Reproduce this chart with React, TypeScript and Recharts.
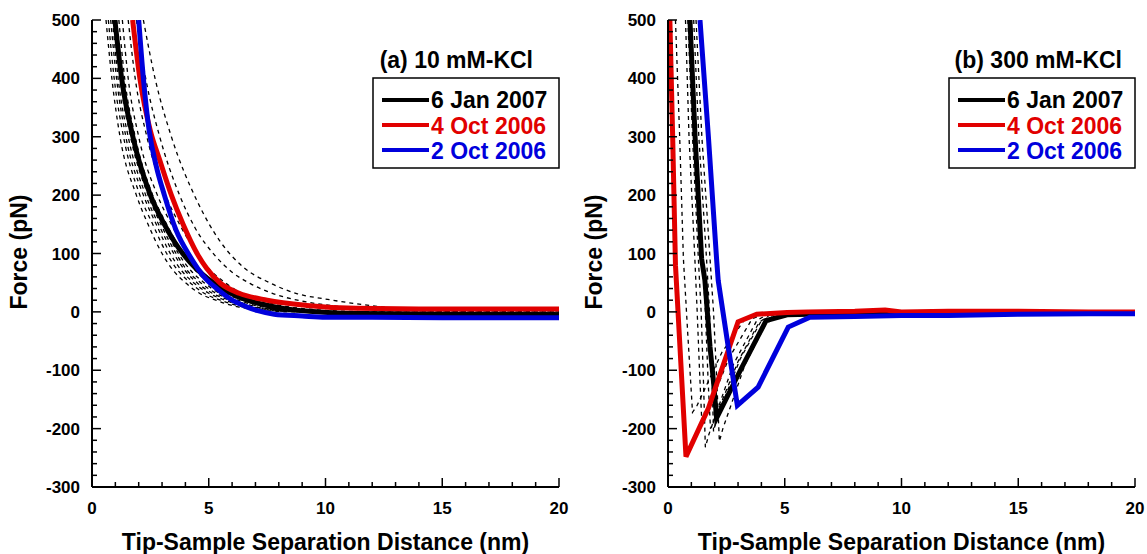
import React from 'react';
import { LineChart, Line, XAxis, YAxis } from 'recharts';

// tick positions (minor ticks every 1 nm / 20 pN, labels on majors)
const xTicks = [0, 1, 2, 3, 4, 5, 6, 7, 8, 9, 10, 11, 12, 13, 14, 15, 16, 17, 18, 19, 20];
const yTicks = [
  -300, -280, -260, -240, -220, -200, -180, -160, -140, -120, -100, -80, -60, -40, -20, 0,
  20, 40, 60, 80, 100, 120, 140, 160, 180, 200, 220, 240, 260, 280, 300, 320, 340, 360, 380,
  400, 420, 440, 460, 480, 500,
];

const legendNames = ['6 Jan 2007', '4 Oct 2006', '2 Oct 2006'];

// (a) 10 mM-KCl : [distance nm, force pN]
const aJan07 = [[0.98, 500], [1.27, 400], [1.75, 300], [2.5, 200], [3.1, 150], [3.7, 110], [4.2, 85], [4.8, 62], [5.5, 42], [6.3, 25], [7.2, 14], [8.2, 6], [9.3, 1], [10.5, -2], [12, -3], [14, -4], [17, -5], [20, -5]];
const aOct4 = [[1.74, 500], [2.05, 400], [2.5, 310], [2.9, 260], [3.4, 200], [3.9, 150], [4.5, 100], [4.9, 75], [5.5, 49], [6.3, 32], [7.5, 20], [9.2, 11], [11.3, 6], [14, 5], [17, 5], [20, 5]];
const aOct2 = [[2.0, 500], [2.2, 400], [2.45, 310], [2.75, 250], [3.1, 200], [3.6, 140], [4.2, 95], [4.8, 60], [5.4, 38], [6.0, 20], [6.6, 9], [7.1, 2], [7.8, -4], [9.0, -7], [10, -9], [12, -9], [15, -10], [17, -10], [20, -10]];

const aFits = [
  [[0.6, 500], [0.85, 400], [1.2, 300], [1.9, 200], [2.4, 150], [3.0, 100], [3.5, 70], [4.0, 50], [4.6, 32], [5.3, 20], [6.2, 9], [7.2, 3], [8.5, 0], [20, 0]],
  [[0.7, 500], [0.95, 400], [1.35, 300], [2.05, 200], [2.6, 150], [3.2, 100], [3.7, 70], [4.2, 50], [4.8, 32], [5.5, 20], [6.4, 9], [7.5, 3], [9, 0], [20, -1]],
  [[0.8, 500], [1.05, 400], [1.45, 300], [2.2, 200], [2.75, 150], [3.35, 100], [3.85, 70], [4.35, 50], [5.0, 32], [5.7, 20], [6.6, 9], [7.7, 3], [9, 0], [20, -2]],
  [[0.88, 500], [1.12, 400], [1.55, 300], [2.3, 200], [2.85, 150], [3.5, 100], [4.0, 70], [4.5, 50], [5.15, 32], [5.9, 20], [6.8, 9], [7.9, 3], [9.5, 0], [20, -3]],
  [[0.95, 500], [1.2, 400], [1.65, 300], [2.4, 200], [2.95, 150], [3.6, 100], [4.1, 70], [4.65, 50], [5.3, 32], [6.1, 20], [7.0, 9], [8.1, 3], [9.5, 0], [20, -3]],
  [[1.05, 500], [1.3, 400], [1.75, 300], [2.5, 200], [3.05, 150], [3.7, 100], [4.25, 70], [4.8, 50], [5.45, 32], [6.25, 20], [7.2, 9], [8.3, 3], [10, 0], [20, -4]],
  [[1.15, 500], [1.4, 400], [1.85, 300], [2.6, 200], [3.2, 150], [3.9, 100], [4.45, 70], [5.0, 50], [5.65, 32], [6.45, 20], [7.4, 9], [8.5, 3], [10, 0], [20, -4]],
  [[1.3, 500], [1.55, 400], [2.0, 300], [2.8, 200], [3.4, 150], [4.1, 100], [4.7, 70], [5.25, 50], [5.9, 32], [6.7, 20], [7.7, 9], [8.8, 3], [10.5, 0], [20, -5]],
  [[1.55, 500], [1.85, 400], [2.35, 300], [3.15, 200], [3.75, 150], [4.5, 100], [5.1, 70], [5.7, 50], [6.4, 32], [7.2, 20], [8.2, 10], [9.5, 4], [11, 1], [20, -3]],
  [[1.9, 500], [2.3, 400], [2.9, 300], [3.75, 200], [4.4, 145], [5.3, 95], [6.0, 68], [6.8, 48], [7.7, 32], [8.8, 20], [10, 12], [11.5, 6], [13, 2], [20, 0]],
  [[2.2, 500], [2.7, 400], [3.4, 300], [4.5, 190], [5.5, 120], [6.5, 76], [7.6, 50], [8.8, 31], [10, 22], [11.3, 14], [12.5, 8], [14, 3], [16, 0], [20, -2]],
];

// (b) 300 mM-KCl
const bJan07 = [[0.94, 500], [1.16, 300], [1.44, 91], [1.58, 54], [1.8, -60], [1.95, -120], [2.08, -182], [3.1, -100], [4.2, -15], [5.1, -5], [7, -3], [10, -2], [15, -1], [20, -1]];
const bOct4 = [[0.08, 500], [0.2, 300], [0.32, 80], [0.77, -248], [1.73, -165], [3.0, -17], [3.8, -4], [5.1, -1], [6, 0], [8, 1], [9.3, 3], [10, 0], [12, 1], [15, 1], [18, 0], [20, 0]];
const bOct2 = [[1.37, 500], [1.73, 300], [2.08, 91], [2.15, 54], [2.58, -60], [2.97, -160], [3.86, -129], [5.15, -26], [6.08, -9], [8, -8], [10, -6], [12, -6], [15, -4], [18, -3], [20, -3]];

const bFits = [
  [[0.32, 500], [0.5, 300], [0.66, 91], [0.85, -40], [1.05, -172], [1.25, -160], [2.3, -70], [3.3, -12], [4, -2], [5, 0], [20, 0]],
  [[0.75, 500], [0.9, 300], [1.15, 91], [1.25, 0], [1.35, -100], [1.45, -190], [1.6, -180], [2.6, -80], [3.6, -12], [4.2, -2], [5, 0], [20, 0]],
  [[0.85, 500], [1.05, 300], [1.3, 91], [1.42, 0], [1.52, -120], [1.6, -232], [1.75, -210], [2.8, -90], [3.8, -15], [4.3, -3], [5, 0], [20, 0]],
  [[1.0, 500], [1.2, 300], [1.48, 91], [1.6, 0], [1.72, -120], [1.82, -200], [1.98, -185], [3.0, -85], [3.9, -18], [4.4, -4], [20, -1]],
  [[1.1, 500], [1.32, 300], [1.65, 91], [1.78, 0], [1.88, -110], [1.95, -205], [2.1, -180], [3.1, -80], [4.0, -15], [4.6, -4], [20, -1]],
  [[1.2, 500], [1.45, 300], [1.8, 91], [1.95, 0], [2.08, -110], [2.2, -222], [2.35, -200], [3.3, -90], [4.2, -20], [4.8, -5], [20, -1]],
];

const BLACK = '#000000';
const RED = '#e10000';
const BLUE = '#0000dc';
const FONT = '"Liberation Sans", Arial, Helvetica, sans-serif';

// plot box inside each chart (chart-local px)
const PL = 92;
const PR = 559;
const PT = 20;
const PB = 487;

const pts = (a: number[][]) => a.map(([x, y]) => ({ x, y }));

const BottomTick = (props: any) => {
  const { x, payload } = props;
  const v = payload.value;
  const major = v % 5 === 0;
  return (
    <g>
      <line x1={x} x2={x} y1={PB} y2={PB - (major ? 9 : 5)} stroke={BLACK} strokeWidth={1.5} />
      {major && (
        <text x={x} y={PB + 27} textAnchor="middle" fontFamily={FONT} fontWeight="bold" fontSize={17} fill={BLACK}>
          {v}
        </text>
      )}
    </g>
  );
};

const TopTick = (props: any) => {
  const { x, payload } = props;
  const major = payload.value % 5 === 0;
  return <line x1={x} x2={x} y1={PT} y2={PT + (major ? 9 : 5)} stroke={BLACK} strokeWidth={1.5} />;
};

const LeftTick = (props: any) => {
  const { y, payload } = props;
  const v = payload.value;
  const major = v % 100 === 0;
  return (
    <g>
      <line x1={PL} x2={PL + (major ? 9 : 5)} y1={y} y2={y} stroke={BLACK} strokeWidth={1.5} />
      {major && (
        <text x={PL - 12} y={y + 6} textAnchor="end" fontFamily={FONT} fontWeight="bold" fontSize={17} fill={BLACK}>
          {v}
        </text>
      )}
    </g>
  );
};

const RightTick = (props: any) => {
  const { y, payload } = props;
  const major = payload.value % 100 === 0;
  return <line x1={PR} x2={PR - (major ? 9 : 5)} y1={y} y2={y} stroke={BLACK} strokeWidth={1.5} />;
};

const axisLine = { stroke: BLACK, strokeWidth: 2 };

const Panel = ({ width, fits, series, curve }: any) => (
  <LineChart width={width} height={554} margin={{ top: PT, right: width - PR, bottom: 0, left: 0 }}>
    <XAxis xAxisId="b" type="number" dataKey="x" domain={[0, 20]} ticks={xTicks} interval={0} allowDataOverflow height={554 - PB} axisLine={axisLine} tickLine={false} tick={<BottomTick />} />
    <XAxis xAxisId="t" orientation="top" type="number" dataKey="x" domain={[0, 20]} ticks={xTicks} interval={0} allowDataOverflow height={0} axisLine={axisLine} tickLine={false} tick={<TopTick />} />
    <YAxis yAxisId="l" type="number" domain={[-300, 500]} ticks={yTicks} interval={0} allowDataOverflow width={PL} axisLine={axisLine} tickLine={false} tick={<LeftTick />} />
    <YAxis yAxisId="r" orientation="right" type="number" domain={[-300, 500]} ticks={yTicks} interval={0} allowDataOverflow width={0} axisLine={axisLine} tickLine={false} tick={<RightTick />} />
    {fits.map((f: number[][], i: number) => (
      <Line key={'fit' + i} xAxisId="b" yAxisId="l" data={pts(f)} dataKey="y" type={curve} stroke={BLACK} strokeWidth={1.3} strokeDasharray="4 4" dot={false} isAnimationActive={false} />
    ))}
    {series.map((s: any, i: number) => (
      <Line key={'s' + i} xAxisId="b" yAxisId="l" data={pts(s.data)} dataKey="y" name={legendNames[i]} type={curve} stroke={s.color} strokeWidth={5} dot={false} isAnimationActive={false} />
    ))}
  </LineChart>
);

const Legend = ({ x, title, titleRight }: { x: number; title: string; titleRight: number }) => (
  <g fontFamily={FONT} fontWeight="bold">
    <text x={titleRight} y={68} textAnchor="end" fontSize={23} fill={BLACK}>{title}</text>
    <rect x={x} y={78} width={186} height={90} fill="#fff" stroke={BLACK} strokeWidth={1.5} />
    {[BLACK, RED, BLUE].map((c, i) => (
      <g key={i}>
        <line x1={x + 9} x2={x + 56} y1={100 + i * 25} y2={100 + i * 25} stroke={c} strokeWidth={4} />
        <text x={x + 58} y={108 + i * 25.5} fontSize={23} fill={c}>{legendNames[i]}</text>
      </g>
    ))}
  </g>
);

export default function App() {
  const left = [
    { data: aJan07, color: BLACK },
    { data: aOct4, color: RED },
    { data: aOct2, color: BLUE },
  ];
  const right = [
    { data: bJan07, color: BLACK },
    { data: bOct4, color: RED },
    { data: bOct2, color: BLUE },
  ];
  return (
    <div style={{ position: 'absolute', left: 0, top: 0, width: 1147, height: 554, background: '#fff', overflow: 'hidden' }}>
      <div style={{ position: 'absolute', left: 0, top: 0 }}>
        <Panel width={580} fits={aFits} series={left} curve="monotone" />
      </div>
      <div style={{ position: 'absolute', left: 576, top: 0 }}>
        <Panel width={571} fits={bFits} series={right} curve="linear" />
      </div>
      <svg width={1147} height={554} style={{ position: 'absolute', left: 0, top: 0, pointerEvents: 'none' }}>
        <g fontFamily={FONT} fontWeight="bold" fontSize={23} fill={BLACK}>
          <text transform="translate(27,252) rotate(-90)" textAnchor="middle">Force (pN)</text>
          <text transform="translate(602,252) rotate(-90)" textAnchor="middle">Force (pN)</text>
          <text x={325.5} y={550} textAnchor="middle">Tip-Sample Separation Distance (nm)</text>
          <text x={901.5} y={550} textAnchor="middle">Tip-Sample Separation Distance (nm)</text>
        </g>
        <Legend x={373} title="(a) 10 mM-KCl" titleRight={533} />
        <Legend x={949} title="(b) 300 mM-KCl" titleRight={1122} />
      </svg>
    </div>
  );
}
